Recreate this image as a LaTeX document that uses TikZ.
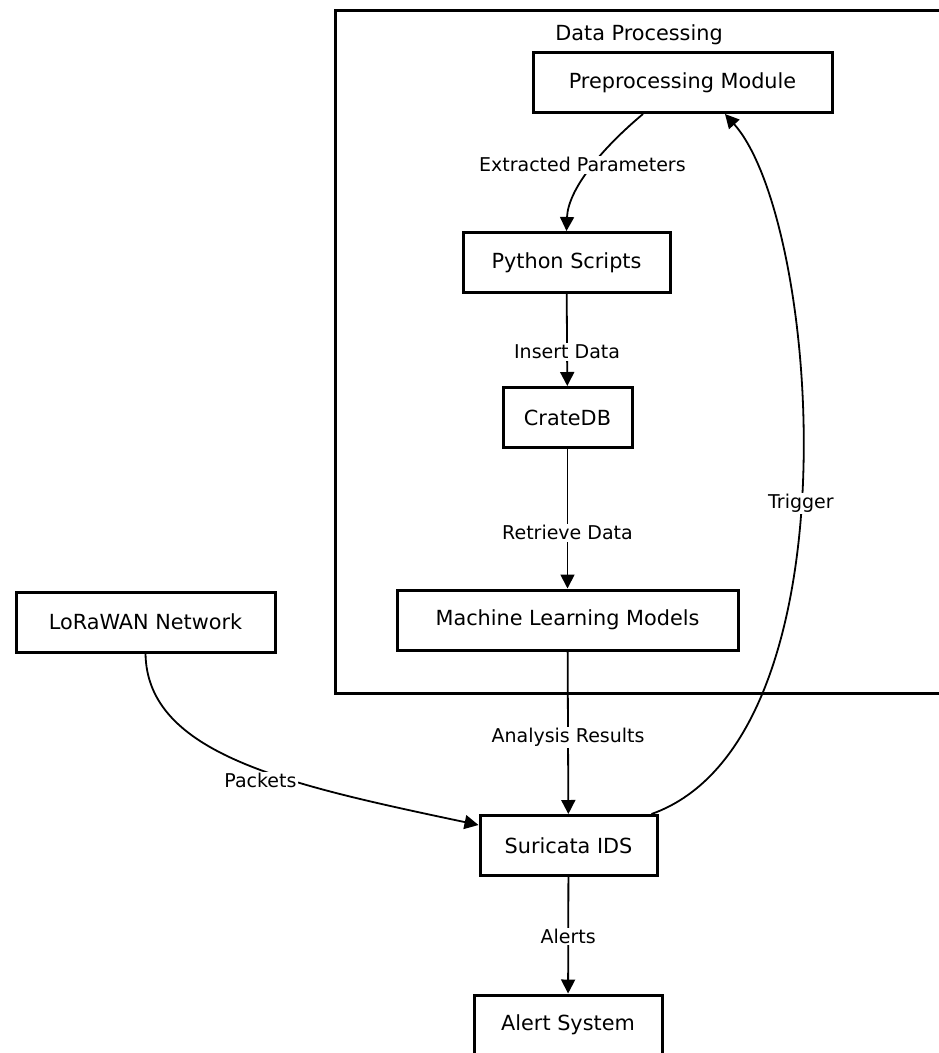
\documentclass[tikz,border=0pt]{standalone}
\usepackage{fontspec}
\setmainfont{DejaVu Sans}
\usepackage{tikz}
\usetikzlibrary{positioning, arrows.meta}

\begin{document}
\begin{tikzpicture}[x=1pt, y=-1pt, >={Triangle[length=14pt, width=14pt]},
    box/.style={draw, line width=3pt, minimum height=60pt, inner sep=0pt, font=\fontsize{20.8}{25}\selectfont},
    lbl/.style={fill=white, inner sep=1.5pt, font=\fontsize{19}{23}\selectfont},
    link/.style={->, line width=1.8pt}]
    \clip (0,0) rectangle (939,1053);
    % Data Processing cluster
    \draw[line width=3pt] (335,10) rectangle (943,693);
    \node[font=\fontsize{20.8}{25}\selectfont] (dptitle) at (639,35) {Data Processing};
    \node[box, minimum width=299pt] (preproc) at (682.5,82.5) {Preprocessing Module};
    \node[box, minimum width=207pt] (pyscripts) at (566.5,262.5) {Python Scripts};
    \node[box, minimum width=129pt] (cratedb) at (567.5,417.5) {CrateDB};
    \node[box, minimum width=341pt] (mlmodels) at (567.5,620) {Machine Learning Models};
    % outside the cluster
    \node[box, minimum width=259pt] (lorawan) at (145.5,622) {LoRaWAN Network};
    \node[box, minimum width=177pt] (suricata) at (568.5,845.5) {Suricata IDS};
    \node[box, minimum width=188pt] (alertsys) at (568,1025) {Alert System};

    \draw[link] ([xshift=-39.5pt]preproc.south) .. controls (600,150) and (568,190) .. node[lbl, pos=0.45, xshift=-11pt] {Extracted Parameters} (pyscripts.north);
    \draw[link] (pyscripts) -- node[lbl, pos=0.63] {Insert Data} (cratedb);
    \draw[link] (cratedb) -- node[lbl, pos=0.6] {Retrieve Data} (mlmodels);
    \draw[link] (mlmodels) -- node[lbl, pos=0.53] {Analysis Results} (suricata);
    \draw[link] (lorawan.south) .. controls (147,755) and (290,785) .. node[lbl, pos=0.55, yshift=-11pt] {Packets} ([yshift=-11pt]suricata.north west);
    \draw[link] ([xshift=-7pt]suricata.north east) .. controls (860,740) and (820,220) .. node[lbl, pos=0.47] {Trigger} ([xshift=42.5pt]preproc.south);
    \draw[link] (suricata) -- node[lbl, pos=0.51] {Alerts} (alertsys);
\end{tikzpicture}
\end{document}
